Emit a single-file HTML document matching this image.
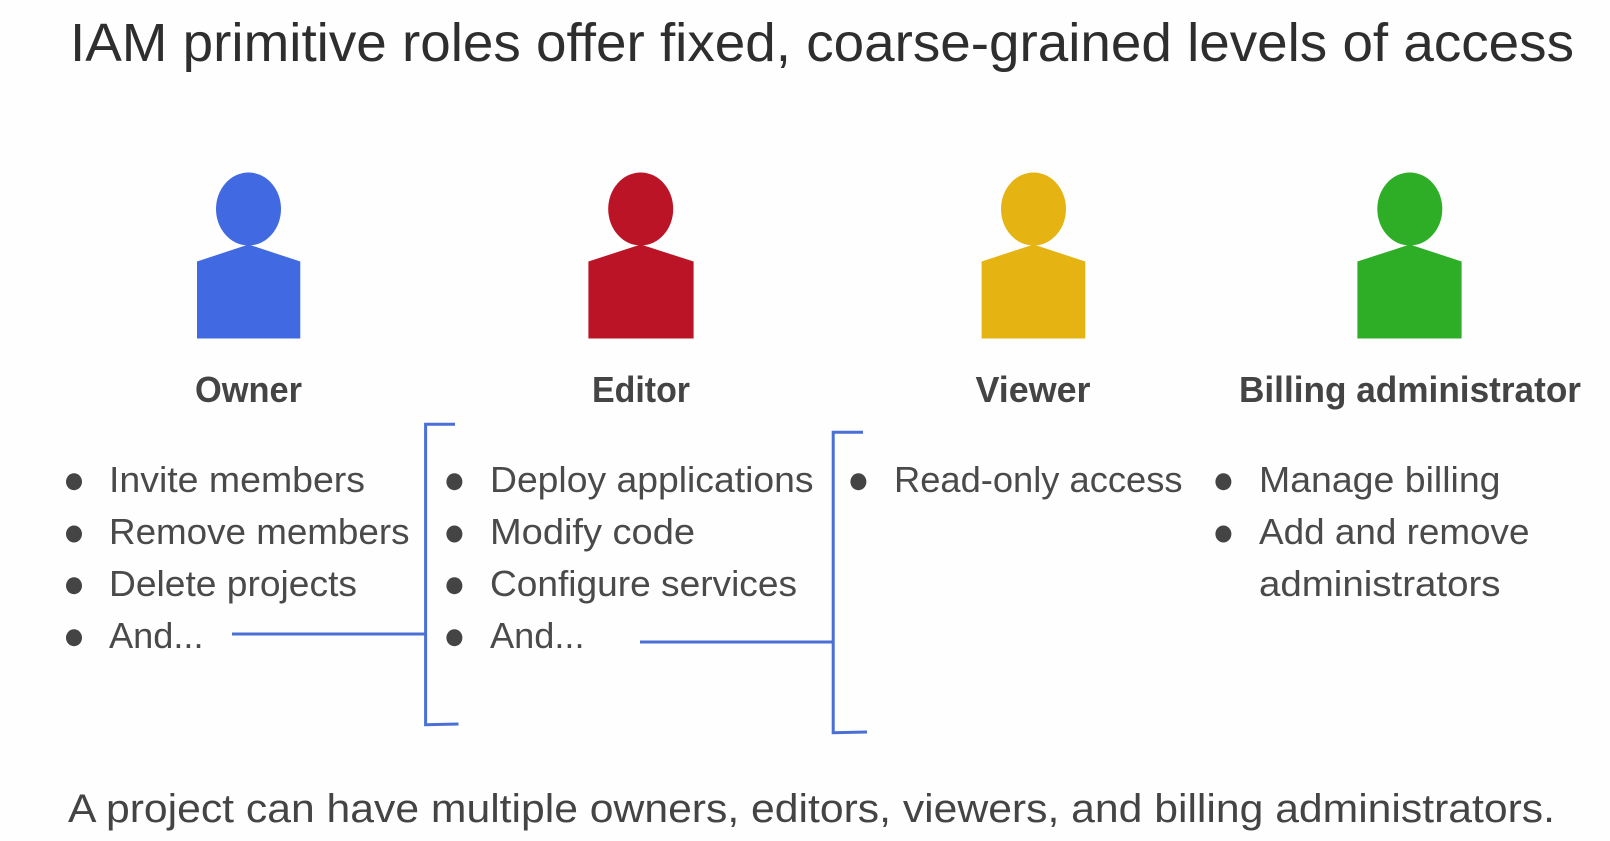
<!DOCTYPE html>
<html><head><meta charset="utf-8"><style>
html,body{margin:0;padding:0;background:#fefefe;width:1610px;height:841px;overflow:hidden}
svg{display:block}
text{font-family:"Liberation Sans",sans-serif}
.t{font-size:36px;fill:#4a4a4a}
.b{font-size:36px;font-weight:bold;fill:#444}
</style></head><body>
<svg width="1610" height="841" viewBox="0 0 1610 841" xmlns="http://www.w3.org/2000/svg">
<rect width="1610" height="841" fill="#fefefe"/>
<text x="70" y="61" font-size="54" fill="#2e2e2e" textLength="1504" lengthAdjust="spacingAndGlyphs">IAM primitive roles offer fixed, coarse-grained levels of access</text>

<g fill="#4169e1"><ellipse cx="248.5" cy="209" rx="32.5" ry="36.5"/><polygon points="248.5,244.5 300.3,261.5 300.3,338.5 197,338.5 197,261.5"/></g>
<g fill="#bb1427"><ellipse cx="640.7" cy="209" rx="32.5" ry="36.5"/><polygon points="640.7,244.5 693.6,261.5 693.6,338.5 588.4,338.5 588.4,261.5"/></g>
<g fill="#e5b412"><ellipse cx="1033.5" cy="209" rx="32.5" ry="36.5"/><polygon points="1033.5,244.5 1085.3,261.5 1085.3,338.5 981.6,338.5 981.6,261.5"/></g>
<g fill="#2ead26"><ellipse cx="1409.8" cy="209" rx="32.5" ry="36.5"/><polygon points="1409.8,244.5 1461.6,261.5 1461.6,338.5 1357.4,338.5 1357.4,261.5"/></g>

<text class="b" x="195" y="402" textLength="107" lengthAdjust="spacingAndGlyphs">Owner</text>
<text class="b" x="592" y="402" textLength="98" lengthAdjust="spacingAndGlyphs">Editor</text>
<text class="b" x="975.5" y="402" textLength="115" lengthAdjust="spacingAndGlyphs">Viewer</text>
<text class="b" x="1239" y="402" textLength="342" lengthAdjust="spacingAndGlyphs">Billing administrator</text>

<g fill="#444">
<ellipse cx="74" cy="481.7" rx="8" ry="8.5"/><ellipse cx="74" cy="534" rx="8" ry="8.5"/><ellipse cx="74" cy="585.7" rx="8" ry="8.5"/><ellipse cx="74" cy="637.7" rx="8" ry="8.5"/>
<ellipse cx="454.4" cy="481.7" rx="8" ry="8.5"/><ellipse cx="454.4" cy="534" rx="8" ry="8.5"/><ellipse cx="454.4" cy="585.7" rx="8" ry="8.5"/><ellipse cx="454.4" cy="637.7" rx="8" ry="8.5"/>
<ellipse cx="858.4" cy="481.7" rx="8" ry="8.5"/>
<ellipse cx="1223.4" cy="481.7" rx="8" ry="8.5"/><ellipse cx="1223.4" cy="534" rx="8" ry="8.5"/>
</g>

<text class="t" x="109" y="492" textLength="256" lengthAdjust="spacingAndGlyphs">Invite members</text>
<text class="t" x="109" y="544" textLength="300.5" lengthAdjust="spacingAndGlyphs">Remove members</text>
<text class="t" x="109" y="596" textLength="248" lengthAdjust="spacingAndGlyphs">Delete projects</text>
<text class="t" x="109" y="648" textLength="94.5" lengthAdjust="spacingAndGlyphs">And...</text>

<text class="t" x="490" y="492" textLength="323.5" lengthAdjust="spacingAndGlyphs">Deploy applications</text>
<text class="t" x="490" y="544" textLength="205" lengthAdjust="spacingAndGlyphs">Modify code</text>
<text class="t" x="490" y="596" textLength="307" lengthAdjust="spacingAndGlyphs">Configure services</text>
<text class="t" x="490" y="648" textLength="94.5" lengthAdjust="spacingAndGlyphs">And...</text>

<text class="t" x="894" y="492" textLength="288.5" lengthAdjust="spacingAndGlyphs">Read-only access</text>

<text class="t" x="1259" y="492" textLength="241.5" lengthAdjust="spacingAndGlyphs">Manage billing</text>
<text class="t" x="1259" y="544" textLength="270.5" lengthAdjust="spacingAndGlyphs">Add and remove</text>
<text class="t" x="1259" y="596" textLength="241.5" lengthAdjust="spacingAndGlyphs">administrators</text>

<g fill="none" stroke="#4a6fd6" stroke-width="3">
<path d="M455 424.3H425.6V724.7L458.5 724"/>
<path d="M232 634H425.6"/>
<path d="M863 432.3H833.2V732.7L867 732"/>
<path d="M640 642H833.2"/>
</g>

<text x="68" y="822" font-size="40" fill="#444" textLength="1487" lengthAdjust="spacingAndGlyphs">A project can have multiple owners, editors, viewers, and billing administrators.</text>
</svg>
</body></html>
